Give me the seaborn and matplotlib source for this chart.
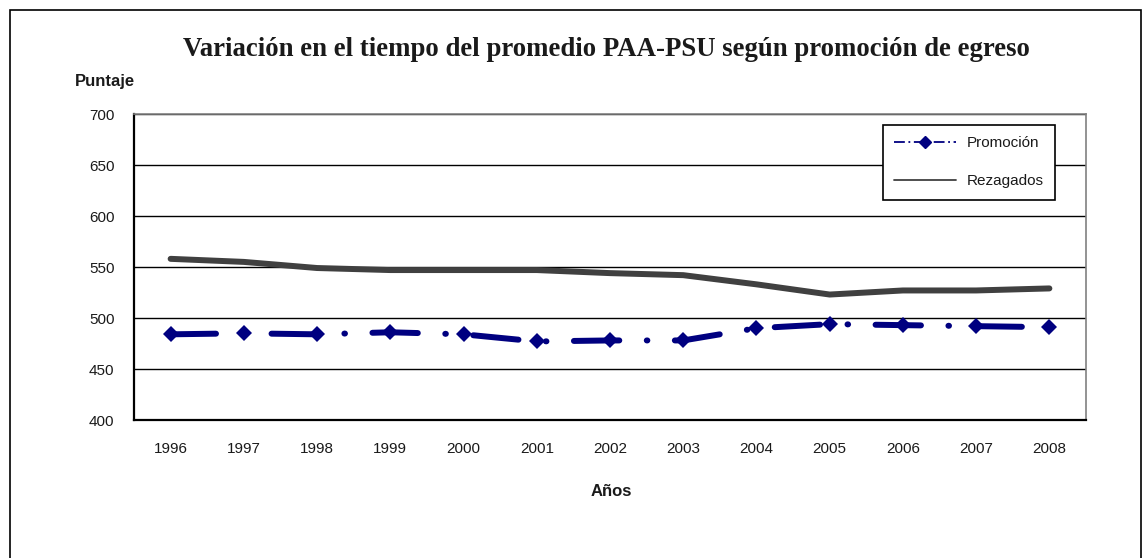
import numpy as np
import pandas as pd
import matplotlib
matplotlib.use("Agg")
from matplotlib import pyplot as plt
from matplotlib.lines import Line2D
from matplotlib.patches import Rectangle
import seaborn as sns

sns.set_style("white")
plt.rcParams['font.family'] = ['Liberation Sans', 'DejaVu Sans']
plt.rcParams['text.color'] = '#1a1a1a'
plt.rcParams['xtick.labelcolor'] = '#1a1a1a'
plt.rcParams['ytick.labelcolor'] = '#1a1a1a'

# data
years = ['1996', '1997', '1998', '1999', '2000', '2001', '2002',
         '2003', '2004', '2005', '2006', '2007', '2008']
promocion = [484, 485, 484, 486, 484, 477, 478, 478, 490, 494, 493, 492, 491]
rezagados = [558, 555, 549, 547, 547, 547, 544, 542, 533, 523, 527, 527, 529]

df = pd.DataFrame({'pos': np.arange(len(years)), 'Año': years,
                   'Promoción': promocion, 'Rezagados': rezagados})

fig = plt.figure(figsize=(11.43, 5.58), dpi=100)
ax = fig.add_axes([134 / 1143, 1 - 420 / 558, (1086 - 134) / 1143, (420 - 114) / 558])

# lines
sns.lineplot(ax=ax, data=df, x='pos', y='Rezagados', color='#404040',
             lw=4.3, solid_capstyle='round', zorder=3)
sns.lineplot(ax=ax, data=df, x='pos', y='Promoción', color='#000080',
             lw=4.3, ls=(0, (7.6, 4.6, 0.1, 4.6)), dash_capstyle='round',
             marker='D', markersize=8.5, markeredgewidth=0, zorder=4)

# axes
ax.set_xlim(-0.5, len(years) - 0.5)
ax.set_ylim(400, 700)
ax.set_yticks(np.arange(400, 701, 50))
ax.set_xticks(df['pos'])
ax.set_xticklabels(years)
ax.set_xticks(np.arange(-0.5, len(years), 1), minor=True)
ax.tick_params(axis='x', which='major', length=0, pad=16, labelsize=11)
ax.tick_params(axis='x', which='minor', length=4, width=1.2, color='black', direction='out')
ax.tick_params(axis='y', length=7, width=1.2, color='black', direction='out', pad=7, labelsize=11)
ax.yaxis.grid(True, color='black', lw=1)
ax.set_axisbelow(True)
ax.set_xlabel('')
ax.set_ylabel('')
for s in ['left', 'bottom']:
    ax.spines[s].set_color('black')
    ax.spines[s].set_linewidth(1.6)
for s in ['top', 'right']:
    ax.spines[s].set_color('#808080')
    ax.spines[s].set_linewidth(1.2)

# legend
handles = [Line2D([], [], color='#000080', lw=1.3, ls=(0, (6, 2, 1, 2)),
                  marker='D', markersize=6),
           Line2D([], [], color='#404040', lw=1.3)]
leg = ax.legend(handles, ['Promoción', 'Rezagados'], loc='upper left',
                bbox_to_anchor=(883 / 1143, 1 - 125 / 558), bbox_transform=fig.transFigure,
                borderaxespad=0, fancybox=False, framealpha=1, edgecolor='black', fontsize=11,
                handlelength=4.0, labelspacing=1.55, borderpad=0.75, handletextpad=0.7)
leg.get_frame().set_linewidth(1.2)

# texts
fig.text(606 / 1143, 1 - 50 / 558, 'Variación en el tiempo del promedio PAA-PSU según promoción de egreso',
         ha='center', va='center', fontsize=19.3, fontweight='bold', family=['Liberation Serif'])
fig.text(75 / 1143, 1 - 82 / 558, 'Puntaje', ha='left', va='center', fontsize=12, fontweight='bold')
fig.text(611 / 1143, 1 - 491 / 558, 'Años', ha='center', va='center', fontsize=12, fontweight='bold')

# outer frame
fig.patches.append(Rectangle((10 / 1143, -0.01), 1131 / 1143, 1 - 10 / 558 + 0.01,
                             transform=fig.transFigure, fill=False, edgecolor='black', lw=1.2))

fig.savefig('out.png', dpi=100)
